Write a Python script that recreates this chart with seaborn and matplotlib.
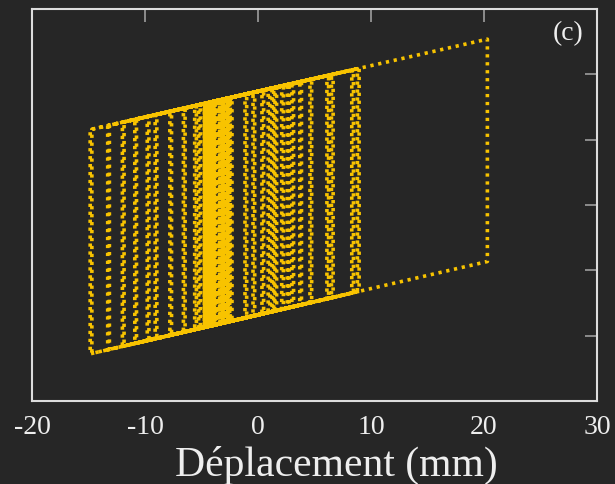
import numpy as np
import pandas as pd
import matplotlib
matplotlib.use("Agg")
import matplotlib.pyplot as plt
import seaborn as sns

# Points de retournement des boucles : deplacement (mm) et effort sur les deux branches
# petits cycles au centre (bande pleine entre -4.8 et -2.5 mm)
band_right_x = [-3.55, -3.5, -3.45, -3.4, -3.35, -3.3, -3.25, -3.2, -3.15, -3.1, -3.05,
                -3.0, -2.95, -2.9, -2.85, -2.8, -2.75, -2.7, -2.65, -2.6, -2.55, -2.5]
band_right_top = [1.600, 1.602, 1.604, 1.606, 1.608, 1.610, 1.612, 1.614, 1.616, 1.618, 1.620,
                  1.622, 1.624, 1.626, 1.628, 1.630, 1.632, 1.634, 1.636, 1.638, 1.640, 1.642]
band_right_bot = [-1.823, -1.821, -1.819, -1.817, -1.815, -1.813, -1.811, -1.809, -1.807, -1.805, -1.803,
                  -1.801, -1.799, -1.797, -1.795, -1.793, -1.791, -1.789, -1.787, -1.785, -1.783, -1.781]
band_left_x = [-3.7, -3.75, -3.8, -3.85, -3.9, -3.95, -4.0, -4.05, -4.1, -4.15, -4.2,
               -4.25, -4.3, -4.35, -4.4, -4.45, -4.5, -4.55, -4.6, -4.65, -4.7, -4.75]
band_left_top = [1.594, 1.592, 1.590, 1.588, 1.586, 1.584, 1.582, 1.580, 1.578, 1.576, 1.575,
                 1.573, 1.571, 1.569, 1.567, 1.565, 1.563, 1.561, 1.559, 1.557, 1.555, 1.553]
band_left_bot = [-1.829, -1.831, -1.833, -1.835, -1.837, -1.839, -1.841, -1.843, -1.845, -1.847, -1.849,
                 -1.851, -1.853, -1.855, -1.857, -1.859, -1.861, -1.863, -1.865, -1.867, -1.869, -1.871]

# grands cycles (deux cycles par niveau)
outer_right_x = [-2.3, -2.45, -1.15, -1.0, -0.44, -0.29, 0.35, 0.5, 0.9, 1.05, 1.24, 1.39,
                 1.5, 1.65, 2.1, 2.25, 2.6, 2.75, 3.0, 3.15, 3.7, 3.85, 4.6, 4.75,
                 6.1, 6.25, 6.5, 6.65, 8.3, 8.45, 8.8, 8.95, 20.3]
outer_right_top = [1.649, 1.643, 1.695, 1.701, 1.723, 1.729, 1.754, 1.760, 1.775, 1.781, 1.789, 1.795,
                   1.799, 1.805, 1.823, 1.829, 1.842, 1.848, 1.858, 1.864, 1.886, 1.892, 1.921, 1.927,
                   1.980, 1.986, 1.996, 2.002, 2.067, 2.073, 2.087, 2.093, 2.540]
outer_right_bot = [-1.772, -1.778, -1.726, -1.720, -1.698, -1.692, -1.666, -1.660, -1.644, -1.638,
                   -1.630, -1.624, -1.620, -1.614, -1.596, -1.590, -1.575, -1.569, -1.559, -1.553,
                   -1.531, -1.525, -1.495, -1.489, -1.435, -1.429, -1.419, -1.413, -1.346, -1.340,
                   -1.326, -1.320, -0.864]
outer_left_x = [-5.1, -5.25, -5.6, -5.45, -6.6, -6.45, -7.8, -7.65, -9.1, -8.95, -9.8, -9.65,
                -10.9, -10.75, -12.0, -11.85, -13.3, -13.15, -14.7, -14.85,
                -4.75, -4.7, -4.65, -4.6, -4.55, -4.5, -4.45, -4.4, -4.35, -4.3, -4.25, -4.2, -4.15]
outer_left_top = [1.539, 1.533, 1.519, 1.525, 1.480, 1.486, 1.433, 1.439, 1.381, 1.387, 1.354, 1.360,
                  1.311, 1.316, 1.267, 1.273, 1.216, 1.222, 1.161, 1.155,
                  1.553, 1.555, 1.557, 1.559, 1.561, 1.563, 1.565, 1.567, 1.569, 1.571, 1.573, 1.575, 1.576]
outer_left_bot = [-1.885, -1.891, -1.905, -1.899, -1.945, -1.939, -1.994, -1.988, -2.046, -2.040,
                  -2.074, -2.068, -2.118, -2.112, -2.162, -2.156, -2.215, -2.209, -2.271, -2.277,
                  -1.871, -1.869, -1.867, -1.865, -1.863, -1.861, -1.859, -1.857, -1.855, -1.853,
                  -1.851, -1.849, -1.847]

x_ticks = [-20, -10, 0, 10, 20, 30]
y_ticks = [-2, -1, 0, 1, 2]

bg = "#262626"
yellow = "#F8C300"

rx = band_right_x + outer_right_x
rt = band_right_top + outer_right_top
rb = band_right_bot + outer_right_bot
lx = band_left_x + outer_left_x
lt = band_left_top + outer_left_top
lb = band_left_bot + outer_left_bot

# chemin force-deplacement : monte a droite, descend, repart a gauche, remonte
xs, ys = [], []
for i in range(len(rx)):
    xs += [rx[i], rx[i], lx[i], lx[i]]
    ys += [rt[i], rb[i], lb[i], lt[i]]
df = pd.DataFrame({"disp": xs, "force": ys})

sns.set_style("dark")
plt.rcParams["font.family"] = ["Liberation Serif", "DejaVu Serif"]
plt.rcParams["axes.unicode_minus"] = False

fig = plt.figure(figsize=(6.15, 4.85), dpi=100, facecolor=bg)
ax = fig.add_axes([0.052, 0.171, 0.9187, 0.8082])
ax.set_facecolor(bg)

sns.lineplot(data=df, x="disp", y="force", sort=False, estimator=None, ax=ax,
             color=yellow, linewidth=2.6, linestyle=(0, (0.9, 1.3)))

ax.set_xlim(-20, 30)
ax.set_ylim(-3, 3)
ax.set_xticks(x_ticks)
ax.set_xticklabels([str(t) for t in x_ticks])
ax.set_yticks(y_ticks)
ax.set_yticklabels([])
ax.grid(False)

ax.tick_params(axis="both", direction="in", length=9, width=1.1, color="#a8a8a8",
               top=True, right=True, labelsize=20, labelcolor="#eeeeee", pad=9)
for s in ax.spines.values():
    s.set_visible(True)
    s.set_color("#dcdcdc")
    s.set_linewidth(1.5)

ax.set_ylabel("")
ax.set_xlabel("Déplacement (mm)", fontsize=30, color="#eeeeee", va="top")
ax.xaxis.set_label_coords(0.538, -0.112)

ax.text(0.949, 0.939, "(c)", transform=ax.transAxes, ha="center", va="center",
        fontsize=20, color="#eeeeee")

fig.savefig("out.png", dpi=100, facecolor=bg)
